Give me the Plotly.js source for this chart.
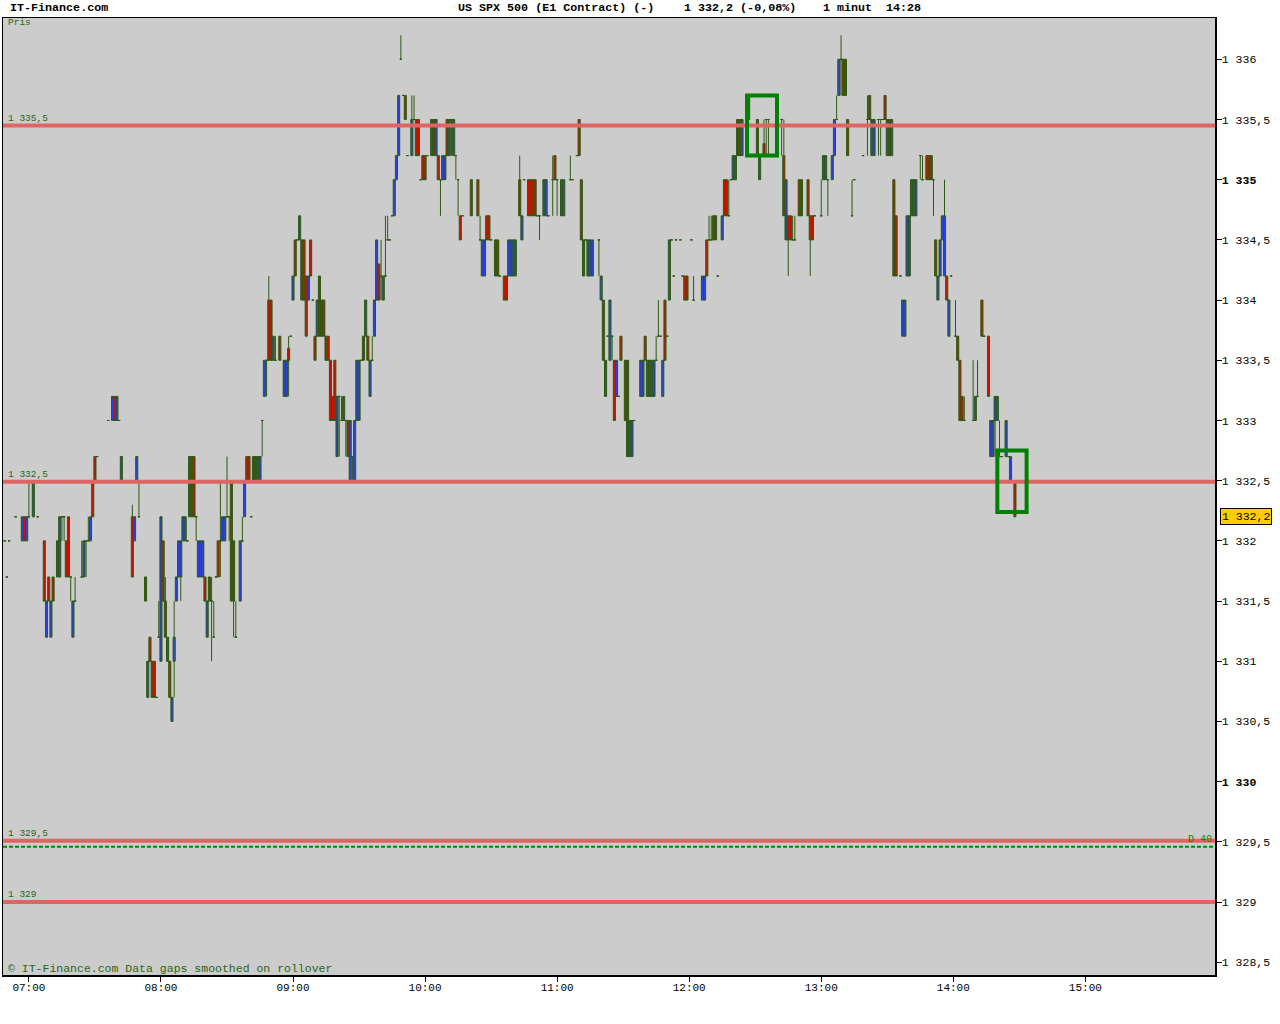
<!DOCTYPE html>
<html><head><meta charset="utf-8">
<script src="https://cdn.plot.ly/plotly-3.0.1.min.js"></script>
<style>html,body{margin:0;padding:0;background:#fff}#chart{width:1280px;height:1024px}</style>
</head><body><div id="chart"></div>
<script>
const _ = null;
const day = '2011-02-10 ';
const firstBarMinute = 6 * 60 + 49;   // first 1-minute bar: 06:49
// one value per minute, rows of 10 minutes
const opens = [
1332.0,1331.7,1332.0,_,_,1332.2,_,_,1332.0,1332.2,
1332.0,1332.2,_,1332.2,_,1332.2,_,_,1332.0,1331.2,
1331.7,1331.2,1331.7,_,1331.7,1331.7,1332.2,1332.2,1332.0,1332.2,
1331.7,1331.2,1331.5,_,_,1331.7,1331.7,1332.0,1332.0,1332.0,
1332.5,1332.7,1332.7,_,_,_,_,1333.0,_,1333.0,
1333.2,1333.0,1333.0,1332.5,_,_,_,_,1332.2,1332.0,
1332.5,1332.2,_,_,1331.7,1330.7,1331.2,1331.0,1331.0,1330.7,
1331.2,1331.0,1332.0,1331.5,1331.0,1331.0,1330.5,1331.0,1331.5,1331.7,
1331.7,1332.0,1332.0,1332.0,1332.2,1332.7,1332.7,1332.2,1331.7,1331.7,
1331.7,1331.7,1331.2,1331.7,1331.5,1331.2,1331.7,1332.0,1332.0,1332.0,
1332.0,1332.2,1332.2,1332.5,1332.0,1331.2,_,1331.5,1332.0,1332.2,
1332.7,1332.7,1332.2,1332.7,1332.7,1332.5,1332.5,1333.0,1333.2,1333.5,
1334.0,1334.0,1333.5,1333.5,_,1333.7,_,1333.2,1333.2,1333.6,
1333.7,1334.0,1334.5,1334.5,1334.5,1334.5,1334.5,1334.2,1334.0,1334.5,
1334.0,1333.7,1333.7,1334.2,1334.0,1334.0,1333.7,1333.7,1333.5,1333.2,
1333.5,1332.7,1333.2,1333.0,1333.0,1333.0,1333.0,1332.5,1332.7,1332.5,
1333.0,1333.0,1333.5,1333.7,1333.7,1333.7,1333.2,1333.5,1333.7,1334.0,
1334.3,1334.2,1334.0,1334.2,1334.5,1334.5,1334.7,1334.7,1335.0,1335.2,
1336.0,1335.7,1335.7,1335.2,_,1335.2,1335.5,1335.5,1335.5,1335.0,
1335.2,1335.2,1335.2,_,1335.2,1335.5,1335.2,1335.2,1335.0,1335.0,
1335.0,1335.5,1335.2,1335.5,1335.2,1335.2,1335.0,1334.7,1334.7,_,
_,_,1335.0,_,_,1335.0,1334.5,1334.2,1334.2,1334.7,
1334.7,1334.5,_,1334.5,1334.5,1334.2,_,1334.2,1334.2,1334.2,
1334.2,1334.2,1334.2,_,1335.0,1334.5,1335.0,_,1335.0,1335.0,
1335.0,1335.0,1334.7,1334.7,_,1334.7,1334.7,1334.7,_,1335.0,
1335.2,1335.0,_,1334.7,1334.7,_,_,1335.0,1335.0,_,
1335.2,1335.5,1335.0,1334.2,1334.5,1334.2,1334.2,1334.2,_,_,
1334.5,1334.0,1334.0,1333.2,1333.7,1333.5,1333.7,1333.5,1333.2,1333.2,
1333.7,_,1333.5,1333.5,1332.7,1332.7,1333.0,_,_,1333.2,
1333.2,1333.7,1333.2,1333.2,1333.2,1333.2,1333.5,1333.7,1333.7,1333.2,
1334.0,1333.7,1334.0,1334.5,1334.2,1334.5,_,1334.5,1334.2,1334.2,
1334.2,_,1334.5,1334.0,_,_,_,1334.0,1334.0,1334.5,
1334.5,1334.5,1334.7,1334.7,1334.2,_,1334.5,1335.0,1335.0,1334.7,
1335.0,1335.0,1335.0,1335.5,1335.5,1335.2,_,_,1335.5,_,
_,_,1335.5,1335.0,_,1335.3,1335.5,1335.5,_,_,
_,_,_,1335.5,1335.2,1334.5,1334.7,1334.7,1334.5,1334.5,
_,1335.0,1335.0,_,_,1335.0,1334.7,1334.7,1334.7,_,
_,1334.7,1335.0,1335.0,1335.0,_,1335.0,1335.2,1335.5,1335.7,
1336.0,1336.0,1336.0,1335.5,_,1334.7,1335.0,_,_,_,
1335.2,_,1335.5,1335.7,1335.2,1335.2,_,1335.5,1335.5,1335.5,
1335.7,1335.2,1335.5,1335.2,1335.0,1334.7,_,1334.2,1333.7,1333.7,
1334.2,1334.2,1334.7,1334.7,1334.7,_,1335.2,1335.0,_,1335.2,
1335.2,1335.2,1335.0,1334.5,1334.0,1334.2,1334.5,1334.2,1334.2,1333.7,
1334.2,_,1333.7,1333.7,1333.5,1333.2,1333.0,_,_,_,
1333.0,1333.0,1333.2,_,1334.0,1333.7,_,1333.7,1332.7,1332.7,
1333.0,1333.0,1332.7,1332.7,_,1332.7,1332.7,1332.5,1332.5,1332.5
];
const closes = [
1332.0,1331.7,1332.0,_,_,1332.2,_,_,1332.2,1332.0,
1332.2,1332.2,_,1332.5,_,1332.2,_,_,1331.5,1331.5,
1331.5,1331.5,1331.5,_,1332.0,1332.2,1332.2,1332.2,1331.7,1331.7,
1331.7,1331.5,1331.5,_,_,1331.7,1332.0,1332.0,1332.0,1332.2,
1332.2,1332.5,1332.7,_,_,_,_,1333.0,_,1333.2,
1333.0,1333.2,1333.0,1332.7,_,_,_,_,1331.7,1332.2,
1332.7,1332.2,_,_,1331.5,1331.0,1331.0,1330.7,1330.7,1330.7,
1331.2,1332.2,1331.5,1331.2,1331.2,1330.7,1330.7,1331.2,1331.7,1332.0,
1332.0,1332.2,1332.2,1332.0,1332.7,1332.2,1332.2,1332.2,1332.0,1332.0,
1332.0,1331.5,1331.5,1331.5,1331.5,1331.2,1331.7,1331.7,1332.0,1332.2,
1332.2,1332.2,1332.2,1331.5,1331.5,1331.2,_,1332.0,1332.0,1332.5,
1332.5,1332.5,1332.2,1332.5,1332.5,1332.7,1332.7,1333.0,1333.5,1333.5,
1333.5,1333.5,1333.7,1333.5,_,1333.5,_,1333.5,1333.5,1333.5,
1333.7,1334.2,1334.2,1334.5,1334.7,1334.0,1334.0,1333.7,1334.2,1334.2,
1334.0,1333.5,1334.0,1333.7,1333.7,1333.7,1333.5,1333.5,1333.0,1333.0,
1333.0,1333.2,1333.2,1333.0,1333.2,1333.0,1332.7,1333.0,1332.7,1333.0,
1333.5,1333.5,1333.5,1333.5,1334.0,1333.5,1333.5,1333.5,1334.0,1334.5,
1334.0,1334.2,1334.2,1334.2,1334.5,1334.5,1334.7,1335.0,1335.2,1335.7,
1336.0,1335.7,1335.5,1335.2,_,1335.5,1335.5,1335.2,1335.2,1335.0,
1335.0,1335.0,1335.2,_,1335.5,1335.2,1335.5,1335.0,1335.0,1335.2,
1335.2,1335.2,1335.5,1335.5,1335.5,1335.2,1335.0,1334.5,1334.7,_,
_,_,1334.7,_,_,1334.7,1334.5,1334.5,1334.5,1334.5,
1334.5,1334.5,_,1334.2,1334.2,1334.2,_,1334.0,1334.0,1334.5,
1334.5,1334.5,1334.5,_,1334.7,1334.7,1335.0,_,1334.7,1334.7,
1334.7,1334.7,1334.7,1334.7,_,1335.0,1335.0,1334.7,_,1335.0,
1335.0,1335.0,_,1335.0,1335.0,_,_,1335.0,1335.0,_,
1335.2,1335.2,1334.5,1334.5,1334.5,1334.5,1334.5,1334.5,_,_,
1334.5,1334.2,1333.5,1333.5,1333.7,1334.0,1333.7,1333.0,1333.5,1333.2,
1333.5,_,1333.0,1332.7,1333.0,1333.0,1333.0,_,_,1333.5,
1333.5,1333.5,1333.5,1333.5,1333.5,1333.5,1333.5,1333.7,1333.7,1333.5,
1333.5,1333.7,1334.5,1334.5,1334.2,1334.5,_,1334.5,1334.2,1334.0,
1334.0,_,1334.5,1334.0,_,_,_,1334.2,1334.2,1334.2,
1334.5,1334.5,1334.5,1334.5,1334.2,_,1334.7,1334.7,1334.7,1334.7,
1335.0,1335.2,1335.2,1335.2,1335.2,1335.5,_,_,1335.7,_,
_,_,1335.2,1335.2,_,1335.2,1335.5,1335.5,_,_,
_,_,_,1335.5,1334.7,1335.0,1334.5,1334.5,1334.5,1334.5,
_,1334.7,1334.7,_,_,1334.7,1334.5,1334.5,1334.7,_,
_,1334.7,1335.2,1335.2,1335.0,_,1335.2,1335.5,1335.5,1336.0,
1336.0,1335.7,1335.7,1335.2,_,1334.7,1335.0,_,_,_,
1335.2,_,1335.5,1335.5,1335.5,1335.5,_,1335.5,1335.5,1335.5,
1335.5,1335.5,1335.2,1335.5,1334.2,1334.2,_,1334.2,1334.0,1334.0,
1334.7,1334.7,1335.0,1335.0,1335.0,_,1335.2,1335.0,_,1335.0,
1335.0,1335.0,1335.0,1334.2,1334.2,1334.5,1334.7,1334.7,1334.0,1334.0,
1334.2,_,1333.7,1333.5,1333.0,1333.0,1333.0,_,_,_,
1333.0,1333.2,1333.2,_,1333.7,1333.7,_,1333.2,1333.0,1333.0,
1333.2,1333.2,1332.7,1332.7,_,1333.0,1332.7,1332.7,1332.5,1332.2
];
// wick extremes beyond the body (null = no wick)
const highs = [
_,_,_,_,_,_,_,_,_,_,
_,1332.5,_,_,_,_,_,_,_,_,
_,_,_,_,_,_,_,_,_,_,
_,_,1331.7,_,_,1332.0,_,_,1332.2,_,
_,_,_,_,_,_,_,_,_,_,
_,_,_,_,_,_,_,_,1332.3,_,
_,1332.5,_,_,_,_,_,_,_,_,
1331.5,_,_,1331.7,_,_,_,1331.5,_,_,
_,_,_,_,_,_,_,_,_,_,
_,_,_,_,1331.7,1331.5,_,_,1332.5,_,
_,1332.7,_,_,_,1331.5,_,_,1332.2,_,
_,_,_,_,_,_,_,_,_,_,
1334.2,_,_,1333.7,_,_,_,_,_,1333.7,
_,_,_,_,_,_,_,_,_,_,
_,_,_,_,_,_,_,_,_,_,
_,_,_,1333.2,_,_,_,_,_,_,
_,_,_,_,_,_,_,1333.7,_,_,
_,1334.5,_,1334.7,1334.7,_,_,_,_,_,
1336.2,_,_,_,_,1335.7,1335.7,_,_,_,
_,_,_,_,_,_,_,_,_,_,
_,_,_,_,_,_,_,_,_,_,
_,_,_,_,_,_,1334.7,_,_,_,
_,_,_,_,_,_,_,_,_,_,
_,_,_,_,1335.2,_,_,_,_,_,
_,_,_,_,_,_,_,_,_,1335.2,
_,_,_,_,_,_,_,1335.2,_,_,
_,_,_,_,_,_,_,_,_,_,
_,_,_,_,_,_,_,_,_,_,
_,_,_,_,_,_,_,_,_,_,
_,_,_,_,_,_,1333.7,1334.0,_,_,
_,_,_,_,_,_,_,_,_,_,
_,_,_,1334.2,_,_,_,_,_,_,
1334.7,1334.7,_,_,_,_,_,_,_,1335.0,
_,_,_,_,_,_,_,_,_,_,
_,_,_,_,_,1335.5,_,_,_,_,
_,_,_,_,1335.5,_,_,_,1334.7,1334.7,
_,_,_,_,_,_,_,_,_,_,
_,1335.0,_,_,_,_,_,_,1335.7,_,
1336.2,_,_,_,_,1335.0,_,_,_,_,
_,_,1335.7,_,_,_,_,_,_,_,
_,_,_,_,_,_,_,_,_,_,
_,_,_,_,_,_,_,1335.2,_,_,
_,_,_,_,_,_,_,1335.0,_,_,
_,_,1334.0,_,_,_,1333.2,_,_,_,
1333.5,_,1333.5,_,_,_,_,_,_,_,
_,_,1333.0,_,_,_,_,_,_,_
];
const lows = [
_,_,_,_,_,_,_,_,_,_,
_,_,_,_,_,_,_,_,_,_,
_,_,_,_,_,_,1332.0,1332.0,_,_,
1331.5,_,_,_,_,_,_,1331.7,_,_,
_,_,_,_,_,_,_,_,_,_,
_,_,_,_,_,_,_,_,_,_,
_,_,_,_,_,_,_,_,_,_,
_,_,_,_,_,_,_,1330.7,_,_,
1331.5,_,_,_,_,_,_,1332.0,_,_,
_,_,_,_,1331.0,_,_,_,1331.7,_,
_,_,1332.0,_,1331.2,_,_,_,_,_,
_,_,_,_,_,_,_,1332.7,_,1333.2,
_,_,_,_,_,_,_,_,_,1333.2,
_,_,_,_,_,_,_,_,_,_,
_,_,_,_,_,_,_,_,_,_,
_,_,1332.7,_,_,1332.7,_,_,1332.5,_,
_,_,_,_,_,_,_,_,_,_,
_,1334.0,_,_,_,_,_,_,_,_,
_,_,_,_,_,_,_,_,_,_,
_,_,_,_,_,_,_,_,1334.7,_,
_,_,_,1335.2,_,1335.0,1334.7,_,_,_,
_,_,_,_,_,_,_,_,_,_,
_,_,_,_,_,_,_,_,_,_,
_,_,_,_,_,_,_,_,_,_,
_,_,_,1334.5,_,_,_,_,_,1334.7,
_,1334.7,_,_,_,_,_,_,_,_,
_,_,_,_,_,_,_,_,_,_,
1334.2,_,_,_,_,_,1333.5,_,_,_,
_,_,_,_,_,_,_,_,_,_,
_,_,_,_,_,_,_,_,_,_,
_,_,_,_,_,_,_,_,_,_,
_,_,_,_,_,_,_,_,_,_,
_,_,_,_,_,_,_,_,_,_,
_,_,_,_,_,_,_,_,_,_,
_,_,_,_,_,_,1335.2,1335.2,_,_,
_,_,_,1335.2,_,_,1334.2,_,_,_,
_,_,_,_,_,_,1334.2,_,_,_,
_,_,_,_,1334.7,_,_,_,_,_,
1335.7,_,_,_,_,_,_,_,_,_,
_,_,1335.2,_,_,_,_,1335.2,1335.2,_,
_,_,_,_,_,_,_,_,_,_,
_,_,_,_,_,_,1335.0,_,_,_,
_,_,1334.7,_,_,_,_,_,_,_,
_,_,_,_,_,_,_,_,_,_,
_,_,_,_,_,_,_,_,_,_,
1332.7,_,_,_,_,_,_,_,_,_
];

const levelValues = [1335.45, 1332.49, 1329.51, 1329.0];
const levelLabels = ['1 335,5', '1 332,5', '1 329,5', '1 329'];
const dashedLevel = 1329.46;
const dashedLabel = 'D 40';
const boxStarts = ['12:26:18', '14:20:00'];
const boxEnds = ['12:39:54', '14:33:18'];
const boxLows = [1335.20, 1332.24];
const boxHighs = [1335.70, 1332.75];
const lastPrice = 1332.2;
const lastPriceLabel = '1 332,2';
const yTickValues = [1328.5,1329,1329.5,1330,1330.5,1331,1331.5,1332,1332.5,1333,1333.5,1334,1334.5,1335,1335.5,1336];
const yTickLabels = ['1 328,5','1 329','1 329,5','<b>1 330</b>','1 330,5','1 331','1 331,5','1 332','1 332,5','1 333','1 333,5','1 334','1 334,5','<b>1 335</b>','1 335,5','1 336'];
const xTickLabels = ['07:00','08:00','09:00','10:00','11:00','12:00','13:00','14:00','15:00'];

const pad = n => String(n).padStart(2, '0');
const times = opens.map((v, i) => { const m = firstBarMinute + i; return day + pad(Math.floor(m / 60)) + ':' + pad(m % 60); });
const hi = opens.map((o, i) => o === null ? null : Math.max(o, closes[i], highs[i] === null ? -Infinity : highs[i]));
const lo = opens.map((o, i) => o === null ? null : Math.min(o, closes[i], lows[i] === null ? Infinity : lows[i]));

const GREEN_TXT = '#2d6410';
const MONO = 'Liberation Mono, DejaVu Sans Mono, monospace';

const trace = {
  type: 'candlestick', x: times, open: opens, high: hi, low: lo, close: closes,
  increasing: { line: { color: '#2d5a12', width: 1 }, fillcolor: '#2a3fe6' },
  decreasing: { line: { color: '#2d5a12', width: 1 }, fillcolor: '#cc1100' },
  whiskerwidth: 0, hoverinfo: 'skip', showlegend: false
};

const shapes = [];
levelValues.forEach(v => shapes.push({ type: 'line', xref: 'paper', x0: 0, x1: 1, yref: 'y', y0: v, y1: v, layer: 'above', line: { color: '#e06464', width: 4 } }));
shapes.push({ type: 'line', xref: 'paper', x0: 0, x1: 1, yref: 'y', y0: dashedLevel, y1: dashedLevel, layer: 'above', line: { color: '#008800', width: 2, dash: '4px,2px' } });
boxStarts.forEach((s, i) => shapes.push({ type: 'rect', xref: 'x', yref: 'y', x0: day + s, x1: day + boxEnds[i], y0: boxLows[i], y1: boxHighs[i], layer: 'above', line: { color: '#008000', width: 4 }, fillcolor: 'rgba(0,0,0,0)' }));

const annotations = [];
levelValues.forEach((v, i) => annotations.push({ xref: 'paper', x: 0.0033, xanchor: 'left', yref: 'y', y: v, yanchor: 'bottom', yshift: 1, text: levelLabels[i], showarrow: false, font: { family: MONO, size: 9.5, color: GREEN_TXT }, borderpad: 0 }));
annotations.push({ xref: 'paper', x: 0.977, xanchor: 'left', yref: 'y', y: dashedLevel, yanchor: 'bottom', yshift: 1, text: dashedLabel, showarrow: false, font: { family: MONO, size: 10, color: '#008800' }, borderpad: 0 });
annotations.push({ xref: 'paper', x: 0.0033, xanchor: 'left', yref: 'paper', y: 0.9948, yanchor: 'middle', text: 'Pris', showarrow: false, font: { family: MONO, size: 9.5, color: GREEN_TXT }, borderpad: 0 });
annotations.push({ xref: 'paper', x: 0.0033, xanchor: 'left', yref: 'paper', y: 0.0063, yanchor: 'middle', text: '© IT-Finance.com Data gaps smoothed on rollover', showarrow: false, font: { family: MONO, size: 11.5, color: GREEN_TXT }, borderpad: 0 });
annotations.push({ xref: 'paper', x: 1.0041, xanchor: 'left', yref: 'y', y: lastPrice, yanchor: 'middle', text: lastPriceLabel, showarrow: false, bgcolor: '#ffcc00', bordercolor: '#000', borderwidth: 1, borderpad: 1, font: { family: MONO, size: 11.5, color: '#000' } });
const titleParts = [['IT-Finance.com', 9], ['US SPX 500 (E1 Contract) (-)', 457], ['1 332,2 (-0,08%)', 683], ['1 minut', 822], ['14:28', 885]];
titleParts.forEach(p => annotations.push({ xref: 'paper', x: (p[1] - 3) / 1212, xanchor: 'left', yref: 'paper', y: 1.0105, yanchor: 'middle', text: '<b>' + p[0] + '</b>', showarrow: false, font: { family: MONO, size: 11.7, color: '#000' }, borderpad: 0 }));

const layout = {
  width: 1280, height: 1024,
  margin: { l: 3, r: 65, t: 18, b: 49, pad: 0 },
  paper_bgcolor: '#ffffff', plot_bgcolor: '#cccccc',
  boxgap: 0.05, boxgroupgap: 0,
  showlegend: false,
  xaxis: {
    type: 'date', range: [day + '06:48:14', day + '15:58:54'],
    rangeslider: { visible: false },
    tickvals: xTickLabels.map(t => day + t), ticktext: xTickLabels,
    ticks: 'outside', ticklen: 5, tickcolor: '#000', tickwidth: 1,
    ticklabelstandoff: -4,
    showgrid: false, zeroline: false,
    showline: true, mirror: true, linecolor: '#000', linewidth: 1.5,
    tickfont: { family: MONO, size: 11, color: '#000' }
  },
  yaxis: {
    side: 'right', range: [1328.394, 1336.343],
    tickvals: yTickValues, ticktext: yTickLabels,
    ticks: 'outside', ticklen: 5, tickcolor: '#000', tickwidth: 1,
    ticklabelstandoff: -2,
    showgrid: false, zeroline: false,
    showline: true, mirror: true, linecolor: '#000', linewidth: 1.5,
    tickfont: { family: MONO, size: 11.5, color: '#000' }
  },
  shapes: shapes,
  annotations: annotations
};

Plotly.newPlot('chart', [trace], layout, { staticPlot: true, displayModeBar: false });
</script>
</body></html>
